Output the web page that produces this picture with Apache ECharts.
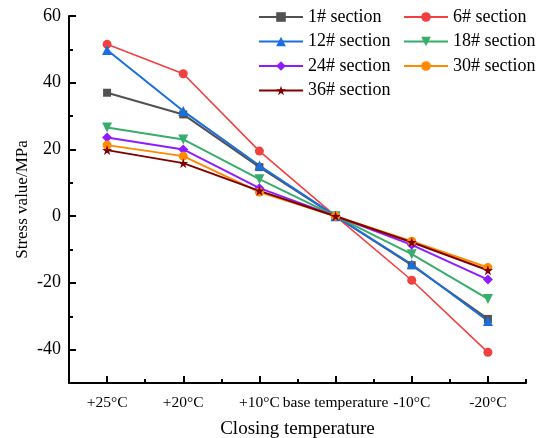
<!DOCTYPE html>
<html>
<head>
<meta charset="utf-8">
<script src="https://cdn.jsdelivr.net/npm/echarts@6/dist/echarts.min.js"></script>
<style>
html,body{margin:0;padding:0;background:#fff;}
#c{width:549px;height:438px;}
</style>
</head>
<body>
<div id="c"></div>
<script>
const categories = ['+25\u00b0C', '+20\u00b0C', '+10\u00b0C', 'base temperature', '-10\u00b0C', '-20\u00b0C'];
const s1  = [37.0, 30.5, 14.7, 0, -14.7, -30.8];
const s6  = [51.5, 42.7, 19.5, 0, -19.2, -40.8];
const s12 = [49.8, 31.5, 15.2, 0, -14.4, -31.4];
const s18 = [26.6, 23.0, 11.1, 0, -11.4, -24.8];
const s24 = [23.6, 20.0, 8.4, 0, -8.6, -19.0];
const s30 = [21.3, 18.0, 7.2, 0, -7.5, -15.4];
const s36 = [19.8, 15.9, 7.6, 0, -7.8, -16.2];
const yTicks = [-40, -20, 0, 20, 40, 60];

const font = '"Liberation Serif", "Times New Roman", serif';
const downTri = 'path://M0,0 L10,0 L5,9 Z';
const star = 'path://M5,0 L6.2,3.6 L10,3.6 L6.9,5.9 L8.1,9.5 L5,7.3 L1.9,9.5 L3.1,5.9 L0,3.6 L3.8,3.6 Z';

function mk(name, data, color, symbol, size, width) {
  return {
    name: name, type: 'line', data: data, xAxisIndex: 0, yAxisIndex: 0,
    symbol: symbol, symbolSize: size, showSymbol: true,
    lineStyle: {color: color, width: width || 2},
    itemStyle: {color: color},
    animation: false
  };
}

const chart = echarts.init(document.getElementById('c'), null, {renderer: 'canvas'});
const legendCommon = {
  orient: 'vertical', itemWidth: 44, itemHeight: 12, itemGap: 4.5, padding: 0,
  textStyle: {fontFamily: font, fontSize: 18, color: '#000', lineHeight: 20}
};
chart.setOption({
  backgroundColor: '#fff',
  animation: false,
  grid: [
    {left: 69, right: 23, top: 16, bottom: 55, outerBoundsMode: 'none', containLabel: false},
    {left: 69, right: 23, top: 16, bottom: 88.6, outerBoundsMode: 'none', containLabel: false}
  ],
  legend: [
    Object.assign({left: 258, top: 7, data: ['1# section', '12# section', '24# section', '36# section']}, legendCommon),
    Object.assign({left: 403, top: 7, data: ['6# section', '18# section', '30# section']}, legendCommon)
  ],
  xAxis: [
    {
      type: 'category', gridIndex: 0, data: categories, position: 'bottom', boundaryGap: true,
      name: 'Closing temperature', nameLocation: 'middle', nameGap: 37,
      nameTextStyle: {fontFamily: font, fontSize: 19, color: '#000'},
      axisLine: {show: true, onZero: false, lineStyle: {color: '#000', width: 2}},
      axisTick: {show: true, alignWithLabel: true, inside: true, length: 7, lineStyle: {color: '#000', width: 2}},
      axisLabel: {show: true, interval: 0, hideOverlap: false, fontFamily: font, fontSize: 15.5, color: '#000', margin: 12},
      splitLine: {show: false}
    },
    {
      type: 'category', gridIndex: 0, data: categories, position: 'bottom', boundaryGap: true,
      axisLine: {show: false, onZero: false},
      axisTick: {show: true, interval: 0, inside: true, length: 4, lineStyle: {color: '#000', width: 2}},
      axisLabel: {show: false}, splitLine: {show: false}
    },
    {
      type: 'category', gridIndex: 1, data: categories, show: false
    }
  ],
  yAxis: [
    {
      type: 'value', gridIndex: 0, min: -50, max: 60, interval: 10,
      name: 'Stress value/MPa', nameLocation: 'middle', nameGap: 38,
      nameTextStyle: {fontFamily: font, fontSize: 17, color: '#000'},
      axisLine: {show: true, onZero: false, lineStyle: {color: '#000', width: 2}},
      axisTick: {show: true, inside: true, length: 4, lineStyle: {color: '#000', width: 2}},
      axisLabel: {show: false},
      splitLine: {show: false}
    },
    {
      type: 'value', gridIndex: 1, min: yTicks[0], max: yTicks[yTicks.length - 1], interval: 20,
      axisLine: {show: false, onZero: false},
      axisTick: {show: true, inside: true, length: 7, lineStyle: {color: '#000', width: 2}},
      axisLabel: {show: true, fontFamily: font, fontSize: 18, color: '#000', margin: 8},
      splitLine: {show: false}
    }
  ],
  series: [
    mk('1# section', s1, '#515151', 'rect', 8),
    mk('6# section', s6, '#F14040', 'circle', 9, 1.6),
    mk('12# section', s12, '#1A6FDF', 'triangle', 10),
    mk('18# section', s18, '#37AD6B', downTri, 10),
    mk('24# section', s24, '#8F1CFF', 'diamond', 10),
    mk('30# section', s30, '#FF8A00', 'circle', 9),
    mk('36# section', s36, '#800000', star, 10)
  ]
});
</script>
</body>
</html>
